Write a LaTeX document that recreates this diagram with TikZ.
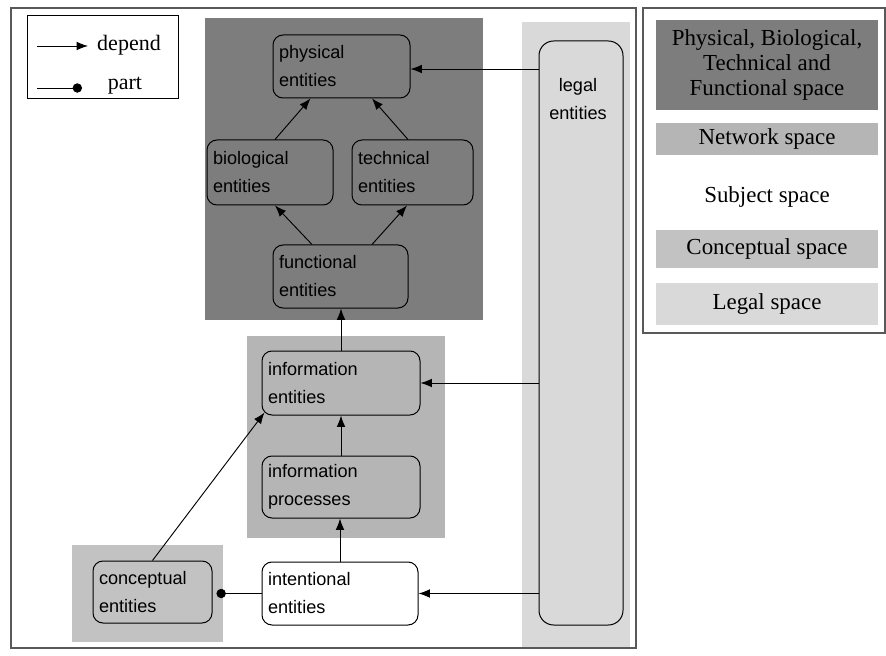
\documentclass[tikz,border=0pt]{standalone}
\usepackage{fontspec}
\setmainfont{Liberation Serif}
\setsansfont{Liberation Sans}
\usetikzlibrary{arrows.meta,calc}
\definecolor{physcol}{gray}{0.49}
\definecolor{netcol}{gray}{0.71}
\definecolor{conccol}{gray}{0.76}
\definecolor{legcol}{gray}{0.85}
\begin{document}
\begin{tikzpicture}[x=0.75pt,y=-0.75pt,
  ent/.style={draw=black, line width=0.75pt, rounded corners=7.5pt, inner sep=0pt, align=left,
    font=\sffamily\fontsize{13.6}{21}\selectfont},
  dep/.style={-{Latex[length=8.5pt,width=6.5pt]}, line width=0.7pt},
  partof/.style={-{Circle[length=7pt]}, line width=0.7pt},
  legtxt/.style={font=\fontsize{17.2}{18.75}\selectfont, align=center, inner sep=0pt},
  swatch/.style={legtxt, minimum width=166.5pt},
  frame/.style={draw=black!65, line width=0.8pt}]
\useasboundingbox[fill=white] (0,0) rectangle (886,656);

% space regions
\fill[physcol] (205,18) rectangle (483,320);
\fill[netcol] (247,336) rectangle (445,538);
\fill[conccol] (72,545) rectangle (223,642);
\fill[legcol] (522,22) rectangle (630,648);

% outer frame
\draw[frame] (11,8) rectangle (636,648);

% legend (top left)
\node[draw=black, line width=0.7pt, minimum width=113.25pt, minimum height=62.25pt] (legbox) at (102.5,56.5) {};
\coordinate (d1) at (37,46);
\coordinate (d2) at (88,46);
\draw[dep] (d1) -- (d2);
\node[legtxt, font=\fontsize{16.5}{18}\selectfont] (dtxt) at (129,45) {depend};
\coordinate (p1) at (37,88);
\coordinate (p2) at (82,88);
\draw[partof] (p1) -- (p2);
\node[legtxt, font=\fontsize{16.5}{18}\selectfont] (ptxt) at (125,86) {part};

% entity nodes
\node[ent, minimum width=102.75pt, minimum height=47.25pt, text width=93.75pt] (phys) at (341.5,66.5) {physical\\entities};
\node[ent, minimum width=94.5pt, minimum height=48.75pt, text width=85.5pt] (bio) at (270,172.5) {biological\\entities};
\node[ent, minimum width=90.75pt, minimum height=48.75pt, text width=81.75pt] (tech) at (412.5,172.5) {technical\\entities};
\node[ent, minimum width=101.25pt, minimum height=47.25pt, text width=92.25pt] (func) at (340.5,276.5) {functional\\entities};
\node[ent, minimum width=118.5pt, minimum height=48pt, text width=109.5pt] (info) at (341,383) {information\\entities};
\node[ent, minimum width=118.5pt, minimum height=46.5pt, text width=109.5pt] (proc) at (341,487) {information\\processes};
\node[ent, fill=white, minimum width=117pt, minimum height=47.25pt, text width=108pt] (int) at (340,593.5) {intentional\\entities};
\node[ent, minimum width=89.25pt, minimum height=46.5pt, text width=80.25pt] (concept) at (152.5,592) {conceptual\\entities};
\node[ent, rounded corners=11pt, minimum width=63pt, minimum height=438pt] (legal) at (581,333) {};
\node[font=\sffamily\fontsize{13.6}{21}\selectfont, align=center, inner sep=0pt] (legaltxt) at (578,99) {legal\\entities};

% connectors
\draw[dep] ($(bio.north)+(5,0)$) -- ($(phys.south)+(-31,0)$);
\draw[dep] ($(tech.north)+(-4.5,0)$) -- ($(phys.south)+(30.5,0)$);
\draw[dep] ($(func.north)+(-28.5,0)$) -- ($(bio.south)+(5,0)$);
\draw[dep] ($(func.north)+(31.5,0)$) -- ($(tech.south)+(-5.5,0)$);
\draw[dep] (info.north) -- (info.north |- func.south);
\draw[dep] (proc.north) -- (proc.north |- info.south);
\draw[dep] (int.north) -- (int.north |- proc.south);
\draw[dep] (concept.north) -- ($(info.south west)+(3,-3)$);
\draw[partof] (int.west) -- ($(int.west -| concept.east)+(4,0)$);
\draw[dep] ($(phys.east -| legal.west)+(0,2.5)$) -- ($(phys.east)+(0,2.5)$);
\draw[dep] (info.east -| legal.west) -- (info.east);
\draw[dep] (int.east -| legal.west) -- (int.east);

% legend (right)
\node[frame, minimum width=181.5pt, minimum height=243.75pt] (rlegend) at (764,170.5) {};
\node[swatch, fill=physcol, minimum height=67.5pt] (physsw) at (767,65) {Physical, Biological,\\Technical and\\Functional space};
\node[swatch, fill=netcol, minimum height=24pt] (netsw) at (767,139) {Network space};
\node[swatch, minimum height=24pt] (subjsw) at (767,197) {Subject space};
\node[swatch, fill=conccol, minimum height=28.5pt] (concsw) at (767,249) {Conceptual space};
\node[swatch, fill=legcol, minimum height=31.5pt] (legsw) at (767,304) {Legal space};
\end{tikzpicture}
\end{document}
